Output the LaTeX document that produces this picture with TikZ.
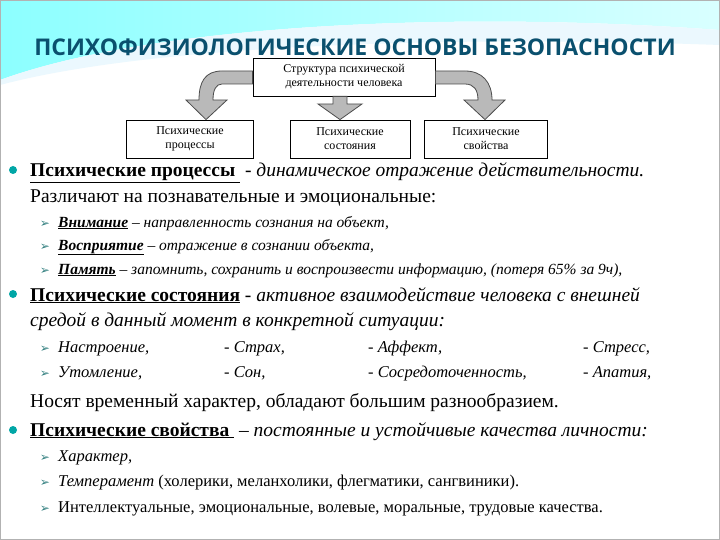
\documentclass[tikz,border=0pt]{standalone}
\usepackage{fontspec}
\setmainfont{Liberation Serif}
\newfontfamily\titlefont{Open Sans}
\newfontfamily\symfont{DejaVu Sans}
\begin{document}
\begin{tikzpicture}[x=1pt,y=-1pt,
  txt/.style={anchor=base west,inner sep=0pt,font=\fontsize{19.5}{22}\selectfont},
  sub/.style={anchor=base west,inner sep=0pt,font=\fontsize{15.5}{17}\selectfont\itshape},
  sub2/.style={anchor=base west,inner sep=0pt,font=\fontsize{16.5}{18}\selectfont\itshape},
  box/.style={draw,thick,fill=white,align=center,font=\fontsize{12}{14}\selectfont,inner sep=1pt},
  garrow/.style={fill=gray!55,draw=black!70,line width=0.8pt},
  dot/.style={circle,fill=teal!70!cyan,inner sep=0pt,minimum size=8pt},
  arr/.style={anchor=base,inner sep=0pt,font=\symfont\fontsize{12}{13}\selectfont,text=teal!60!gray}]
\useasboundingbox (0,0) rectangle (720,540);
\fill[white] (0,0) rectangle (720,540);
\shade[left color=cyan!45!white,right color=cyan!15!white] (0,0) -- (720,0) -- (720,30) .. controls (450,10) and (150,25) .. (0,80) -- cycle;
\fill[cyan!8!white] (0,80) .. controls (150,25) and (450,10) .. (720,30) -- (720,45) .. controls (450,35) and (150,45) .. (0,85) -- cycle;
\draw[gray!60,line width=1pt] (0.5,0.5) rectangle (719.5,539.5);
\node[font=\titlefont\bfseries\fontsize{23}{26}\selectfont,text={rgb,255:red,10;green,80;blue,110},inner sep=0pt] (title) at (355,47) {ПСИХОФИЗИОЛОГИЧЕСКИЕ ОСНОВЫ БЕЗОПАСНОСТИ};
% diagram
\node[box,minimum width=182pt,minimum height=38pt] (top) at (344,77) {Структура психической\\деятельности человека};
\node[box,minimum width=127pt,minimum height=38pt] (b1) at (190,139) {Психические\\процессы};
\node[box,minimum width=120pt,minimum height=38pt] (b2) at (350,139) {Психические\\состояния};
\node[box,minimum width=123pt,minimum height=38pt] (b3) at (486,139) {Психические\\свойства};
\draw[garrow] (top.west |- 0,71) -- (222,71) .. controls (205,71) and (199,82) .. (199,100) -- (186,100) -- (206,0 |- b1.north) -- (227,100) -- (213,100) .. controls (213,90) and (216,84) .. (222,84) -- (top.west |- 0,84) -- cycle;
\draw[garrow] (top.east |- 0,71) -- (465,71) .. controls (482,71) and (492,82) .. (492,100) -- (505,100) -- (485,0 |- b3.north) -- (464,100) -- (478,100) .. controls (478,90) and (474,84) .. (465,84) -- (top.east |- 0,84) -- cycle;
\draw[garrow] (333,0 |- top.south) -- (333,104) -- (318,104) -- (340,0 |- b2.north) -- (362,104) -- (347,104) -- (347,0 |- top.south) -- cycle;
% section 1
\node[dot] (d1) at (13,170) {};
\node[txt] (l1) at (30,177) {\underline{\textbf{Психические процессы} } - \textit{динамическое отражение действительности.}};
\node[txt] (l2) at (30,203) {Различают на познавательные и эмоциональные:};
\node[arr] (a1) at (45,227) {➢};
\node[sub] (s1) at (58,227) {\underline{\textbf{Внимание}} – направленность сознания на объект,};
\node[arr] (a2) at (45,250) {➢};
\node[sub] (s2) at (58,250) {\underline{\textbf{Восприятие}} – отражение в сознании объекта,};
\node[arr] (a3) at (45,274) {➢};
\node[sub] (s3) at (58,274) {\underline{\textbf{Память}} – запомнить, сохранить и воспроизвести информацию, (потеря 65\% за 9ч),};
% section 2
\node[dot] (d2) at (13,294) {};
\node[txt] (l3) at (30,301) {\underline{\textbf{Психические состояния}} - \textit{активное взаимодействие человека с внешней}};
\node[txt] (l4) at (30,326) {\textit{средой в данный момент в конкретной ситуации:}};
\node[arr] (a4) at (45,352) {➢};
\node[sub2] (s4) at (58,352) {Настроение,};
\node[sub2] (s5) at (224,352) {- Страх,};
\node[sub2] (s6) at (368,352) {- Аффект,};
\node[sub2] (s7) at (583,352) {- Стресс,};
\node[arr] (a5) at (45,377) {➢};
\node[sub2] (s8) at (58,377) {Утомление,};
\node[sub2] (s9) at (224,377) {- Сон,};
\node[sub2] (s10) at (368,377) {- Сосредоточенность,};
\node[sub2] (s11) at (583,377) {- Апатия,};
\node[txt] (l5) at (30,407) {Носят временный характер, обладают большим разнообразием.};
% section 3
\node[dot] (d3) at (13,430) {};
\node[txt] (l6) at (30,436) {\underline{\textbf{Психические свойства} } – \textit{постоянные и устойчивые качества личности:}};
\node[arr] (a6) at (45,461) {➢};
\node[sub2] (s12) at (58,461) {Характер,};
\node[arr] (a7) at (45,486) {➢};
\node[sub2,font=\fontsize{16.5}{18}\selectfont] (s13) at (58,486) {\textit{Темперамент} (холерики, меланхолики, флегматики, сангвиники).};
\node[arr] (a8) at (45,512) {➢};
\node[sub2,font=\fontsize{16.5}{18}\selectfont] (s14) at (58,512) {Интеллектуальные, эмоциональные, волевые, моральные, трудовые качества.};
\end{tikzpicture}
\end{document}
